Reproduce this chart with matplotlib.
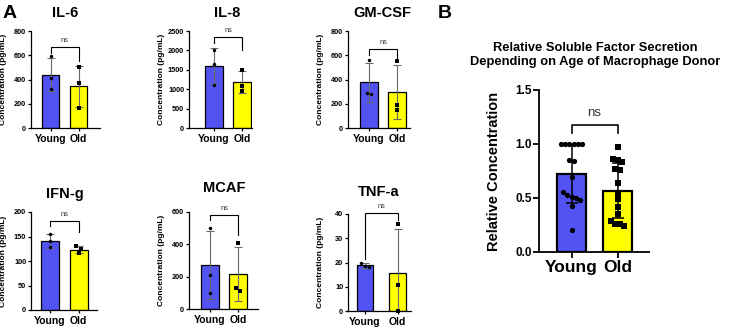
import numpy as np
import matplotlib
matplotlib.use("Agg")
import matplotlib.pyplot as plt
from matplotlib.ticker import MultipleLocator, FormatStrFormatter

plt.rcParams['font.family'] = ['Liberation Sans', 'DejaVu Sans']

groups = ["Young", "Old"]
titles = ["IL-6", "IL-8", "GM-CSF", "IFN-g", "MCAF", "TNF-a"]

# raw points (pg/mL)
il6_young = [590, 410, 320]
il6_old = [500, 370, 165]
il8_young = [2020, 1660, 1110]
il8_old = [1500, 1086, 966]
gmcsf_young = [563, 279, 290]
gmcsf_old = [549, 188, 149]
ifng_young = [155, 128, 140]
ifng_old = [130, 116, 124]
mcaf_young = [503, 213, 98]
mcaf_old = [410, 113, 131]
tnfa_young = [19.9, 18.4, 18.2]
tnfa_old = [35.9, 10.7, 0.0]

young_points = [il6_young, il8_young, gmcsf_young, ifng_young, mcaf_young, tnfa_young]
old_points = [il6_old, il8_old, gmcsf_old, ifng_old, mcaf_old, tnfa_old]
y_max = [800, 2500, 800, 200, 600, 40]
y_step = [200, 500, 200, 50, 200, 10]

# panel B, relative concentration
rel_young = [1, 1, 1, 1, 1, 1, 0.85, 0.84, 0.69, 0.56, 0.53, 0.51, 0.50, 0.48, 0.43, 0.20]
rel_old = [0.97, 0.86, 0.85, 0.83, 0.77, 0.76, 0.64, 0.55, 0.49, 0.42, 0.35,
           0.29, 0.26, 0.26, 0.24]

BLUE = "#5353F3"
YELLOW = "#FFFF00"

W, H = 750, 329
fig = plt.figure(figsize=(W / 100, H / 100), dpi=100)

# layout in pixels: left, top, right, bottom, first bar centre, spacing, bar width
boxes = [
    (31, 31, 100, 128, 50.5, 28, 17),
    (189, 31, 252, 128, 214, 28, 18),
    (348, 31, 410, 128, 369, 28, 18),
    (31, 212, 97, 310, 50, 28.5, 18),
    (189, 212, 258, 309, 210, 28, 18),
    (348, 214, 411, 311, 365, 32.5, 16.5),
]
# bracket: top, left leg end, right leg end (data units)
brackets = [(668, 618, 549), (2345, 2190, 2017), (651, 604, 549),
            (182, 171, 159), (583, 553, 460), (40.4, 21.5, 37.7)]
title_pos = [(65, 13), (227, 13), (382, 13), (65, 194), (224, 188), (379, 192)]


def swarm(vals, tol, step):
    vals = np.asarray(vals, float)
    order = np.argsort(-vals)
    off = np.zeros(len(vals))
    clusters = []
    cur = [order[0]]
    for i in order[1:]:
        if abs(vals[cur[-1]] - vals[i]) < tol:
            cur.append(i)
        else:
            clusters.append(cur)
            cur = [i]
    clusters.append(cur)
    for c in clusters:
        n = len(c)
        for k, i in enumerate(c):
            off[i] = (k - (n - 1) / 2) * step
    return off


def panel(box, young, old, ymax, ystep, br, big=False):
    l, t, r, b, c0, sp, bw = box
    ax = fig.add_axes([l / W, 1 - b / H, (r - l) / W, (b - t) / H])
    ax.set_xlim((l - c0) / sp, (r - c0) / sp)
    ax.set_ylim(0, ymax)
    hpx = b - t
    if big:
        lw_bar, lw_sp, ecol, elw, cap, ms = 1.6, 1.3, 'black', 1.1, 4.5, 3.8
        fs_tick, fs_x, tl, fs_ns = 8.5, 12.5, 4, 9.5
    else:
        lw_bar, lw_sp, ecol, elw, cap, ms = 0.9, 0.9, '#6a6a6a', 0.8, 3, 2.5
        fs_tick, fs_x, tl, fs_ns = 5.3, 7.5, 2.5, 5.3
    for i, (pts, col, mk) in enumerate([(young, BLUE, 'o'), (old, YELLOW, 's')]):
        pts = np.asarray(pts, float)
        m, s = pts.mean(), pts.std(ddof=1)
        ax.bar(i, m, width=bw / sp, color=col, edgecolor='black', linewidth=lw_bar, zorder=2)
        ax.errorbar(i, m, yerr=s, color=ecol, elinewidth=elw, capsize=cap,
                    capthick=elw, zorder=3)
        off = swarm(pts, 3.8 / hpx * ymax, 4.3 / sp)
        ax.plot(i + off, pts, mk, color='black', markersize=ms, markeredgewidth=0,
                zorder=4, clip_on=False)
    top, yl, yr = br
    ax.plot([0, 0, 1, 1], [yl, top, top, yr], color='black', lw=lw_sp * 0.9,
            clip_on=False, zorder=5)
    ax.annotate('ns', xy=(0.5, top), xytext=(0, 2 if not big else 4),
                textcoords='offset points', ha='center', va='bottom',
                fontsize=fs_ns, color='#333333', annotation_clip=False)
    for sname in ['top', 'right']:
        ax.spines[sname].set_visible(False)
    for sname in ['left', 'bottom']:
        ax.spines[sname].set_linewidth(lw_sp)
    ax.yaxis.set_major_locator(MultipleLocator(ystep))
    ax.set_xticks([0, 1])
    ax.set_xticklabels(groups, fontsize=fs_x, fontweight='bold')
    ax.tick_params(axis='y', labelsize=fs_tick, length=tl, width=lw_sp, pad=1)
    ax.tick_params(axis='x', length=tl, width=lw_sp, pad=1.5)
    for lab in ax.get_yticklabels():
        lab.set_fontweight('bold')
    return ax


for k in range(6):
    ax = panel(boxes[k], young_points[k], old_points[k], y_max[k], y_step[k], brackets[k])
    l, t, r, b = boxes[k][:4]
    ax.set_ylabel("Concentration (pg/mL)", fontsize=6, fontweight='bold')
    ax.yaxis.set_label_coords(-24 / (r - l), 0.5)
    tx, ty = title_pos[k]
    fig.text(tx / W, 1 - ty / H, titles[k], ha='center', va='center',
             fontsize=10.5, fontweight='bold')

axb = panel((539, 90, 649, 252, 571.5, 46, 29), rel_young, rel_old, 1.5, 0.5,
            (1.18, 1.10, 1.10), big=True)
axb.yaxis.set_major_formatter(FormatStrFormatter('%.1f'))
for lab in axb.get_yticklabels():
    lab.set_fontweight('bold')
axb.set_ylabel("Relative Concentration", fontsize=10.5, fontweight='bold')
axb.yaxis.set_label_coords(-38 / 110, 0.5)
fig.text(595 / W, 1 - 55 / H, "Relative Soluble Factor Secretion\nDepending on Age of Macrophage Donor",
         ha='center', va='center', fontsize=9.3, fontweight='bold', linespacing=1.25)

fig.text(10 / W, 1 - 13 / H, "A", ha='center', va='center', fontsize=14, fontweight='bold')
fig.text(445 / W, 1 - 13 / H, "B", ha='center', va='center', fontsize=14, fontweight='bold')

fig.savefig("out.png", dpi=100)
